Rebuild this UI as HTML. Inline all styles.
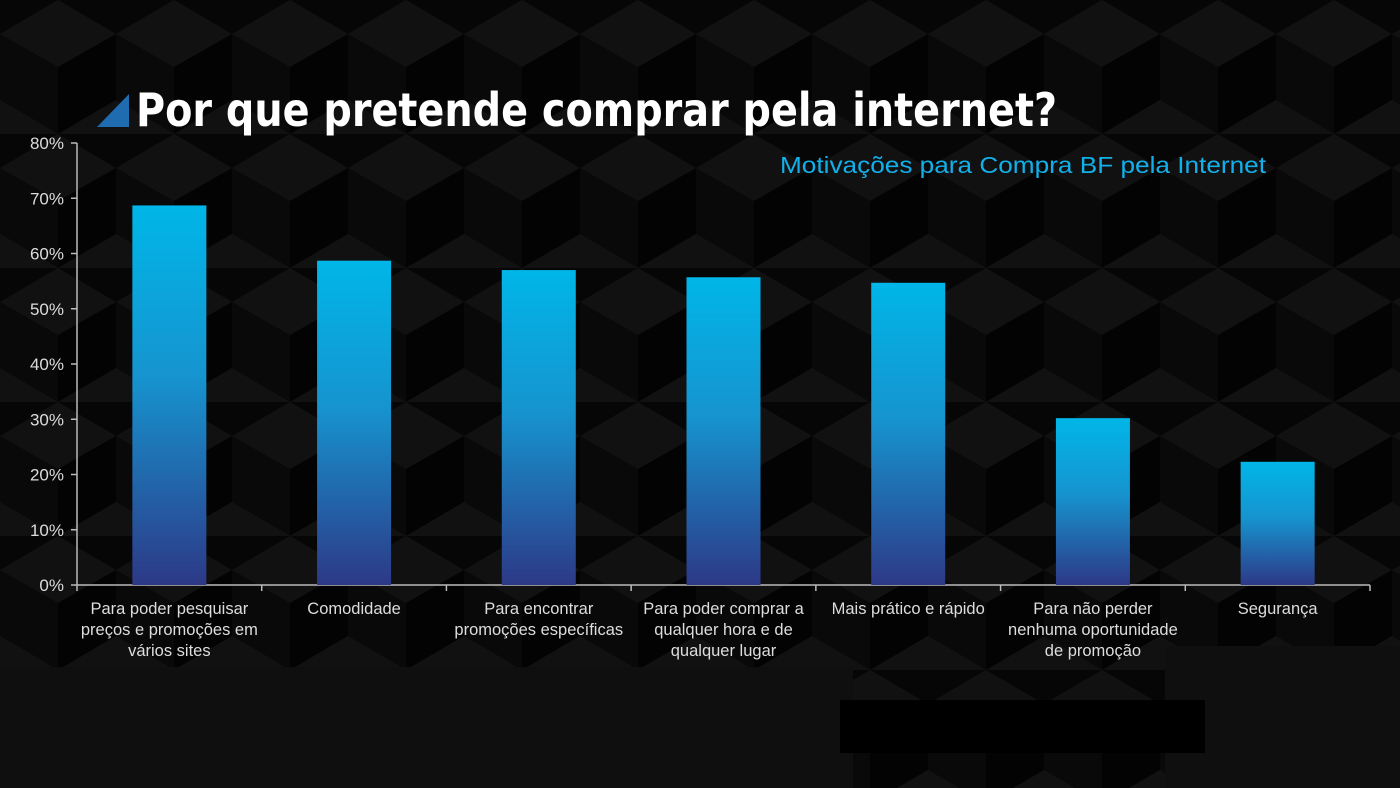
<!DOCTYPE html>
<html><head><meta charset="utf-8"><style>
html,body{margin:0;padding:0;width:1400px;height:788px;overflow:hidden;background:#050505;font-family:"Liberation Sans",sans-serif}
</style></head><body>
<svg width="1400" height="788" xmlns="http://www.w3.org/2000/svg">
<defs>
<pattern id="cubes" width="116" height="134" patternUnits="userSpaceOnUse">
<rect width="116" height="134" fill="#060606"/>
<polygon points="58,0 116,34 58,67 0,34" fill="#111"/>
<polygon points="0,34 58,67 58,134 0,100" fill="#090909"/>
<polygon points="116,34 58,67 58,134 116,100" fill="#030303"/>
<polygon points="0,100 58,134 0,168" fill="#111"/>
<polygon points="116,100 58,134 116,168" fill="#111"/>
</pattern>
<linearGradient id="barg" x1="0" y1="0" x2="0" y2="1">
<stop offset="0" stop-color="#00b6e8"/><stop offset="0.45" stop-color="#1694cf"/><stop offset="1" stop-color="#2d3987"/>
</linearGradient>
</defs>
<rect width="1400" height="788" fill="url(#cubes)"/>
<rect x="0" y="667" width="853" height="121" fill="#0f0f0f"/>
<rect x="1165" y="646" width="235" height="142" fill="#0f0f0f"/>
<rect x="840" y="700" width="365" height="53" fill="#000"/>
<polygon points="97,127 129,94 129,127" fill="#1f6cb0"/>
<text x="136" y="126" font-size="46" font-weight="bold" fill="#fff" textLength="921" lengthAdjust="spacingAndGlyphs" font-family="'DejaVu Sans','Liberation Sans',sans-serif">Por que pretende comprar pela internet?</text>
<text x="780" y="173" font-size="23" fill="#12b0ea" textLength="486" lengthAdjust="spacingAndGlyphs">Motivações para Compra BF pela Internet</text>
<g id="axes"></g><g id="bars"></g><g id="labels"></g>
</svg>
<script>
const categories=[["Para poder pesquisar","preços e promoções em","vários sites"],["Comodidade"],["Para encontrar","promoções específicas"],["Para poder comprar a","qualquer hora e de","qualquer lugar"],["Mais prático e rápido"],["Para não perder","nenhuma oportunidade","de promoção"],["Segurança"]];
const values=[68.7,58.7,57.0,55.7,54.7,30.2,22.3];
const ticks=[0,10,20,30,40,50,60,70,80];
const NS="http://www.w3.org/2000/svg";
const x0=77,x1=1370,y0=585,y80=143;
const yS=v=>y0-(v/80)*(y0-y80);
const band=(x1-x0)/categories.length;
const xS=i=>x0+band*(i+0.5);
function mk(t,a,p){const e=document.createElementNS(NS,t);for(const k in a)e.setAttribute(k,a[k]);p.appendChild(e);return e;}
const ax=document.getElementById('axes'),bg=document.getElementById('bars'),lg=document.getElementById('labels');
let yl=mk('line',{x1:x0,y1:y80,x2:x0,y2:y0,stroke:'#bbb','stroke-width':1.5},ax);


let xl=mk('line',{x1:x0,y1:y0,x2:x1,y2:y0,stroke:'#bbb','stroke-width':1.5},ax);


ticks.forEach(t=>{const y=yS(t);
mk('line',{x1:x0-6,y1:y,x2:x0,y2:y,stroke:'#bbb','stroke-width':1.5},ax);
const tx=mk('text',{x:x0-13,y:y+6,'font-size':17,fill:'#ddd','text-anchor':'end'},ax);tx.textContent=t+'%';

});
for(let i=0;i<=categories.length;i++){const x=x0+band*i;mk('line',{x1:x,y1:y0,x2:x,y2:y0+6,stroke:'#bbb','stroke-width':1.5},ax);}
values.forEach((v,i)=>{const r=mk('rect',{x:xS(i)-37,y:yS(v),width:74,height:y0-yS(v),fill:'url(#barg)'},bg);

});
categories.forEach((c,i)=>{const t=mk('text',{'font-size':16.5,fill:'#ddd','text-anchor':'middle'},lg);


c.forEach((l,j)=>{const s=mk('tspan',{x:xS(i),y:614+j*21},t);s.textContent=l;});});
</script>
</body></html>
